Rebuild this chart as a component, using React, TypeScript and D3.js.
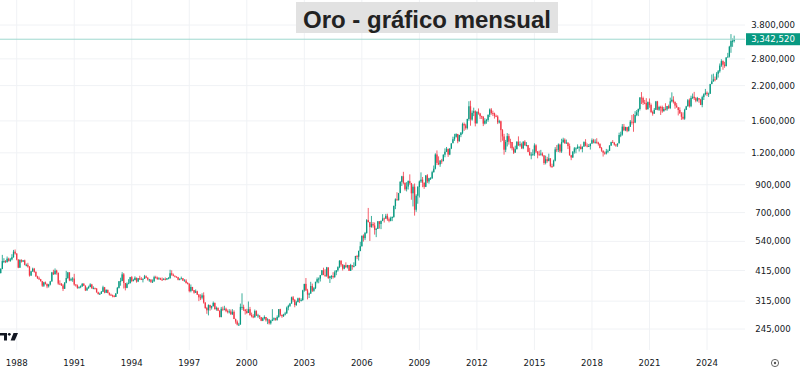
import React from "react";
import * as d3 from "d3";

// Monthly gold candles, Jan 1987 .. Jun 2025 (USD/oz; axis shows value x1000)
const startYear = 1987;
const firstOpen = 391;
const closes = [
  408,406,421,452,452,448,462,453,459,468,492,484,
  458,426,457,450,455,437,437,430,397,412,422,410,
  394,387,384,377,362,373,368,360,366,376,408,401,
  415,407,369,368,363,352,372,388,408,380,384,386,
  366,363,355,357,360,368,362,347,354,358,366,353,
  354,353,341,336,337,343,357,340,349,339,334,332,
  330,327,337,355,377,378,401,371,355,369,370,391,
  378,381,389,376,387,385,384,385,394,389,383,383,
  375,376,391,389,384,387,383,382,384,383,387,387,
  405,400,396,393,391,382,385,387,379,379,371,369,
  345,358,348,340,344,334,326,325,332,311,296,290,
  304,297,301,310,293,296,289,273,294,292,294,288,
  287,287,280,286,268,262,255,255,299,299,292,288,
  283,293,278,275,272,288,276,277,273,264,270,273,
  265,267,258,264,267,270,266,273,293,279,275,279,
  282,297,302,308,326,318,304,312,323,317,318,347,
  368,347,334,337,361,346,354,375,384,386,398,416,
  399,396,427,388,394,395,391,408,416,428,453,438,
  422,435,428,436,414,436,429,433,473,470,495,517,
  568,556,582,654,643,614,632,623,599,604,647,632,
  650,664,662,680,659,650,666,673,743,789,783,834,
  923,971,916,864,885,930,913,833,884,718,815,882,
  927,942,916,883,979,927,954,955,1008,1040,1182,1096,
  1081,1118,1113,1180,1212,1244,1181,1248,1307,1357,1386,1421,
  1332,1409,1439,1556,1536,1500,1628,1826,1620,1722,1746,1565,
  1737,1710,1669,1664,1561,1604,1614,1692,1773,1719,1713,1675,
  1664,1579,1595,1472,1391,1234,1323,1395,1327,1323,1250,1202,
  1240,1326,1284,1296,1250,1327,1282,1287,1210,1171,1182,1184,
  1283,1213,1183,1182,1191,1172,1095,1132,1115,1142,1065,1061,
  1118,1238,1233,1293,1215,1322,1351,1309,1316,1275,1173,1151,
  1211,1249,1249,1268,1268,1242,1269,1322,1280,1271,1275,1303,
  1345,1318,1325,1315,1299,1253,1224,1201,1192,1215,1222,1282,
  1321,1313,1292,1284,1305,1409,1414,1520,1472,1513,1464,1517,
  1589,1585,1577,1687,1730,1781,1975,1967,1886,1879,1777,1895,
  1847,1734,1708,1769,1907,1770,1814,1813,1743,1783,1775,1829,
  1797,1909,1937,1897,1838,1807,1766,1711,1661,1633,1768,1824,
  1928,1827,1969,1990,1963,1919,1965,1940,1849,1983,2036,2063,
  2039,2044,2230,2286,2327,2326,2448,2503,2635,2744,2657,2625,
  2835,2858,3124,3288,3289,3342.52,
];
const highs = [
  414,411,424,478,464,456,471,466,465,481,500,502,
  485,460,459,459,456,458,442,445,432,414,426,425,
  412,396,393,385,378,375,376,369,368,378,410,418,
  423,418,407,380,371,368,374,414,410,409,389,391,
  403,367,366,360,363,371,371,363,358,362,370,368,
  360,356,354,343,340,345,362,358,350,349,341,337,
  334,333,339,358,377,389,409,406,371,373,384,392,
  395,385,394,389,388,396,391,387,399,397,391,385,
  383,383,396,396,393,391,389,390,388,390,388,391,
  418,416,404,397,394,392,387,393,388,384,384,374,
  369,366,358,348,350,346,336,335,338,341,312,299,
  306,305,302,314,311,300,298,290,299,300,302,297,
  292,293,292,293,290,269,265,259,308,338,305,293,
  294,314,299,284,280,292,290,281,276,272,272,277,
  273,270,268,266,293,272,271,277,293,294,278,281,
  286,300,305,310,328,330,321,316,325,325,323,349,
  368,388,352,340,375,369,358,375,390,390,399,417,
  426,420,429,427,396,398,409,415,416,431,456,456,
  440,437,447,437,436,441,429,447,474,478,497,538,
  569,575,588,660,730,644,679,643,640,610,649,648,
  651,690,669,692,693,670,675,676,746,796,841,836,
  930,975,1011,918,921,935,988,915,903,910,826,889,
  935,1006,965,919,981,990,958,963,1021,1070,1195,1226,
  1162,1125,1136,1183,1249,1265,1246,1250,1307,1388,1424,1431,
  1423,1412,1447,1575,1577,1559,1632,1911,1920,1758,1803,1761,
  1745,1791,1720,1677,1667,1640,1630,1693,1790,1796,1755,1724,
  1694,1684,1616,1604,1487,1424,1348,1434,1424,1362,1323,1267,
  1280,1332,1392,1331,1315,1332,1345,1322,1287,1255,1206,1238,
  1307,1296,1220,1224,1232,1205,1175,1170,1157,1191,1142,1088,
  1128,1263,1287,1306,1303,1362,1375,1367,1352,1318,1304,1178,
  1220,1264,1262,1295,1270,1296,1270,1331,1357,1306,1299,1306,
  1366,1361,1356,1369,1326,1309,1265,1225,1214,1243,1237,1284,
  1326,1346,1324,1300,1306,1439,1452,1555,1557,1518,1516,1524,
  1612,1689,1704,1747,1765,1789,1984,2075,1992,1933,1965,1906,
  1959,1872,1755,1798,1916,1917,1833,1834,1836,1814,1877,1831,
  1853,1974,2070,1998,1909,1879,1814,1808,1735,1729,1786,1833,
  1949,1959,2009,2048,2079,1983,1987,1966,1953,2009,2052,2135,
  2088,2065,2236,2432,2450,2388,2484,2532,2686,2790,2761,2726,
  2843,2956,3149,3500,3365,3452,
];
const lows = [
  400,398,404,420,444,444,446,450,449,455,466,479,
  455,424,425,446,448,435,431,426,393,395,410,407,
  392,385,381,376,358,358,366,354,356,363,376,399,
  401,400,365,364,361,345,352,370,385,377,377,375,
  362,359,352,353,354,358,361,345,346,352,357,353,
  351,350,340,334,333,336,342,338,339,338,331,330,
  326,326,327,337,353,362,377,353,347,354,368,370,
  374,376,380,372,374,381,381,373,385,387,379,375,
  371,371,376,386,382,382,381,378,382,380,381,385,
  386,396,394,390,389,380,380,384,378,377,369,366,
  341,341,345,337,339,333,315,318,320,308,294,281,
  277,289,292,300,292,289,288,272,272,288,290,285,
  282,282,278,278,268,257,253,252,255,291,288,279,
  281,283,276,272,270,272,276,271,268,263,263,267,
  262,256,255,255,263,264,264,264,271,275,271,273,
  277,281,290,299,308,313,298,302,312,310,314,316,
  343,345,320,324,337,342,343,351,370,370,376,398,
  398,392,392,385,371,384,386,389,398,411,424,430,
  415,420,425,423,414,414,418,427,432,460,454,494,
  515,539,546,579,640,542,611,611,574,561,605,606,
  603,648,640,664,650,641,647,648,668,722,779,780,
  838,890,903,853,847,862,900,786,740,681,705,758,
  802,915,880,867,881,913,909,939,948,1004,1033,1075,
  1074,1058,1087,1112,1153,1208,1157,1175,1241,1314,1336,1376,
  1308,1327,1382,1419,1462,1478,1481,1602,1532,1604,1671,1523,
  1562,1692,1627,1627,1527,1550,1560,1588,1656,1693,1671,1634,
  1655,1555,1564,1321,1338,1180,1208,1271,1292,1250,1227,1187,
  1202,1238,1277,1268,1241,1240,1281,1272,1207,1183,1132,1170,
  1167,1198,1142,1170,1170,1162,1077,1081,1098,1111,1053,1046,
  1062,1111,1208,1208,1200,1199,1310,1301,1302,1241,1171,1123,
  1146,1191,1195,1242,1214,1236,1205,1267,1271,1261,1265,1236,
  1302,1307,1303,1302,1281,1250,1211,1160,1180,1182,1196,1221,
  1276,1311,1280,1266,1266,1311,1382,1400,1459,1459,1445,1454,
  1517,1548,1451,1568,1670,1671,1757,1863,1849,1860,1765,1775,
  1802,1717,1677,1706,1766,1761,1751,1688,1721,1746,1759,1753,
  1780,1780,1890,1872,1786,1805,1681,1709,1615,1617,1616,1765,
  1823,1805,1810,1949,1932,1893,1903,1885,1846,1810,1932,2016,
  2002,1985,2043,2229,2277,2286,2319,2365,2472,2604,2537,2583,
  2614,2832,2833,2957,3121,3245,
];

const priceTicks = [3800, 2800, 2200, 1600, 1200, 900, 700, 540, 415, 315, 245];
const priceTickLabels = ["3.800,000", "2.800,000", "2.200,000", "1.600,000", "1.200,000", "900,000", "700,000", "540,000", "415,000", "315,000", "245,000"];
const yearTicks = [1988, 1991, 1994, 1997, 2000, 2003, 2006, 2009, 2012, 2015, 2018, 2021, 2024];
const lastPriceLabel = "3,342,520";
const title = "Oro - gráfico mensual";

const W = 800, H = 373;
const plotRight = 745, plotBottom = 350;
const UP = "#089981", DOWN = "#f23645";

export default function App() {
  const x = d3.scaleLinear().domain([12, 444]).range([16.7, 707]);
  const y = d3.scaleLog().domain([245, 3800]).range([329, 25]);
  const candles = closes.map((c, i) => {
    const o = i === 0 ? firstOpen : closes[i - 1];
    return { i, o, c, h: highs[i], l: lows[i] };
  });
  const yearX = (yr: number) => x((yr - startYear) * 12);
  const lastClose = closes[closes.length - 1];
  const bw = 1.3;
  return (
    <svg width={W} height={H} style={{ position: "absolute", left: 0, top: 0, background: "#fff" }}>
      <defs>
        <clipPath id="plot"><rect x={0} y={0} width={plotRight} height={plotBottom} /></clipPath>
      </defs>
      <rect x={0} y={0} width={W} height={H} fill="#fff" />
      {/* grid */}
      {priceTicks.map((t) => (
        <line key={"h" + t} x1={0} x2={plotRight} y1={y(t)} y2={y(t)} stroke="#f0f2f5" strokeWidth={1} />
      ))}
      {yearTicks.map((yr) => (
        <line key={"v" + yr} x1={yearX(yr)} x2={yearX(yr)} y1={0} y2={plotBottom} stroke="#f0f2f5" strokeWidth={1} />
      ))}
      {/* candles */}
      <g clipPath="url(#plot)">
        {candles.map((d) => {
          const col = d.c >= d.o ? UP : DOWN;
          const cx = x(d.i);
          const top = y(Math.max(d.o, d.c));
          const bot = y(Math.min(d.o, d.c));
          return (
            <g key={d.i}>
              <line x1={cx} x2={cx} y1={y(d.h)} y2={y(d.l)} stroke={col} strokeWidth={0.8} />
              <rect x={cx - bw / 2} y={top} width={bw} height={Math.max(0.9, bot - top)} fill={col} />
            </g>
          );
        })}
      </g>
      {/* last price line */}
      <line x1={0} x2={plotRight} y1={y(lastClose)} y2={y(lastClose)} stroke="#9fd8cf" strokeWidth={1} />
      {/* price axis labels */}
      {priceTicks.map((t, k) => (
        <text key={"pl" + t} x={773} y={y(t)} dy="0.35em" textAnchor="middle" fontFamily="DejaVu Sans" fontSize={8.6} fill="#131722">
          {priceTickLabels[k]}
        </text>
      ))}
      <rect x={746} y={y(lastClose) - 6} width={54} height={12} fill={UP} />
      <text x={773} y={y(lastClose)} dy="0.35em" textAnchor="middle" fontFamily="DejaVu Sans" fontSize={8.6} fill="#fff">
        {lastPriceLabel}
      </text>
      {/* time axis labels */}
      {yearTicks.map((yr) => (
        <text key={"yl" + yr} x={yearX(yr)} y={363} dy="0.35em" textAnchor="middle" fontFamily="DejaVu Sans" fontSize={8.6} fill="#131722">
          {yr}
        </text>
      ))}
      {/* settings icon */}
      <circle cx={775} cy={363} r={3.6} fill="none" stroke="#555" strokeWidth={0.9} />
      <circle cx={775} cy={363} r={1.2} fill="#555" />
      {/* TV logo */}
      <g fill="#131722">
        <path d="M0,333 H7 V340.5 H4 V335.5 H0 Z" />
        <circle cx={9.3} cy={334.3} r={1.4} />
        <path d="M13.5,333 H18 L14.8,340.5 H10.6 Z" />
      </g>
      {/* title */}
      <rect x={296} y={2} width={262} height={31} fill="#e2e2e2" />
      <text x={427} y={28} textAnchor="middle" fontFamily="Liberation Sans" fontWeight="bold" fontSize={24} fill="#222">
        {title}
      </text>
    </svg>
  );
}
